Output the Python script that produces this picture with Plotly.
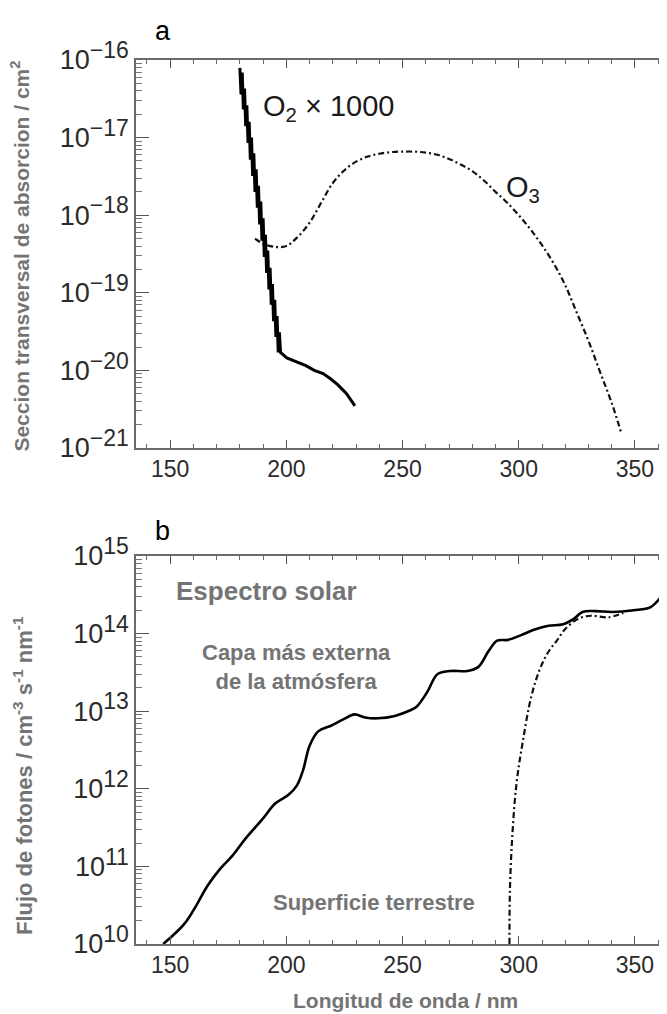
import plotly.graph_objects as go

# ---------------- data ----------------
# Panel a: absorption cross sections (cm^2)
o2_wl = [180.0, 180.5, 181.0, 181.5, 182.0, 182.5, 183.0, 183.5, 184.0, 184.5, 185.0, 185.5,
         186.0, 186.5, 187.0, 187.5, 188.0, 188.5, 189.0, 189.5, 190.0, 190.5, 191.0, 191.5,
         192.0, 192.5, 193.0, 193.5, 194.0, 194.5, 195.0, 195.5, 196.0, 196.5, 197.0, 197.5,
         200.2, 204.0, 208.4, 212.0, 215.8, 219.0, 222.2, 225.9, 229.5]
o2_xs = [7.9e-17, 3.6e-17, 6.9e-17, 2.3e-17, 4.3e-17, 1.4e-17, 2.6e-17, 8.5e-18, 1.6e-17, 5.2e-18,
         1.0e-17, 3.2e-18, 6.3e-18, 2.0e-18, 3.9e-18, 1.25e-18, 2.4e-18, 7.6e-19, 1.5e-18, 4.7e-19,
         9.1e-19, 2.9e-19, 5.6e-19, 1.8e-19, 3.5e-19, 1.1e-19, 2.1e-19, 7.0e-20, 1.3e-19, 4.3e-20,
         8.1e-20, 2.7e-20, 5.0e-20, 1.7e-20, 3.1e-20, 1.7e-20,
         1.45e-20, 1.3e-20, 1.15e-20, 1.0e-20, 9.1e-21, 7.8e-21, 6.5e-21, 5.0e-21, 3.5e-21]

o3_wl = [186.5, 190, 195, 200, 205, 210, 215, 220, 225, 230, 235, 240, 245, 250, 255, 260, 265,
         270, 275, 280, 285, 290, 295, 300, 305, 310, 315, 320, 325, 330, 335, 340, 344]
o3_xs = [5.0e-19, 4.3e-19, 3.9e-19, 4.0e-19, 5.3e-19, 8.0e-19, 1.45e-18, 2.6e-18, 3.8e-18,
         4.9e-18, 5.7e-18, 6.2e-18, 6.5e-18, 6.6e-18, 6.6e-18, 6.4e-18, 6.0e-18, 5.3e-18,
         4.5e-18, 3.7e-18, 2.8e-18, 2.0e-18, 1.45e-18, 1.0e-18, 6.6e-19, 4.1e-19, 2.4e-19,
         1.25e-19, 5.5e-20, 2.4e-20, 9.5e-21, 3.8e-21, 1.6e-21]

# Panel b: solar photon flux (cm^-3 s^-1 nm^-1)
sun_top_wl = [147, 156, 161.4, 166, 171.5, 177, 182.5, 189.8, 195.3, 200.8, 204.5, 207.2, 210,
              213.7, 219.2, 224.7, 229.3, 233.9, 239.4, 246.7, 253.1, 255.9, 260.5, 265, 270.5,
              277.9, 282.5, 287.1, 290.7, 295.3, 300.8, 307.2, 312.8, 319.1, 323.7, 327.4, 332.9,
              340.3, 349.4, 356.8, 362.3, 367]
sun_top_flux = [1.0e10, 1.8e10, 3.2e10, 5.6e10, 9.3e10, 1.4e11, 2.3e11, 4.1e11, 6.5e11, 8.3e11,
                1.1e12, 1.74e12, 3.6e12, 5.5e12, 6.5e12, 7.9e12, 9.1e12, 8.3e12, 8.1e12, 8.7e12,
                1.02e13, 1.13e13, 1.74e13, 3.0e13, 3.3e13, 3.3e13, 3.7e13, 6.0e13, 8.1e13, 8.3e13,
                9.5e13, 1.14e14, 1.26e14, 1.32e14, 1.55e14, 1.9e14, 1.95e14, 1.9e14, 2.0e14,
                2.2e14, 3.2e14, 4.1e14]

sun_surf_wl = [296, 296.2, 297.2, 299, 301.7, 305.4, 309.1, 312.7, 316.4, 320, 325.6, 331, 338.4, 345]
sun_surf_flux = [1.0e10, 5.0e10, 2.4e11, 1.15e12, 4.0e12, 1.55e13, 3.5e13, 5.8e13, 8.1e13,
                 1.15e14, 1.55e14, 1.7e14, 1.62e14, 1.85e14]

x_ticks = [150, 200, 250, 300, 350]
y_exp_a = [-21, -20, -19, -18, -17, -16]
y_exp_b = [10, 11, 12, 13, 14, 15]

# ---------------- figure ----------------
W, H = 667, 1014
L, R, T, B = 128, 1, 52, 78
TOP_PANEL = [0.5611, 1.0]
BOT_PANEL = [0.0, 0.4389]

FAM = "Liberation Sans, Arial, sans-serif"
GRAY = "#747474"
DASHDOT = "6px,3px,2px,3px"

fig = go.Figure()

fig.add_trace(go.Scatter(x=o3_wl, y=o3_xs, mode="lines",
                         line=dict(color="#111", width=2.2, dash=DASHDOT, shape="spline"),
                         xaxis="x", yaxis="y", showlegend=False))
fig.add_trace(go.Scatter(x=o2_wl, y=o2_xs, mode="lines", line=dict(color="#000", width=3),
                         xaxis="x", yaxis="y", showlegend=False))

fig.add_trace(go.Scatter(x=sun_surf_wl, y=sun_surf_flux, mode="lines",
                         line=dict(color="#111", width=2.2, dash=DASHDOT, shape="spline"),
                         xaxis="x2", yaxis="y2", showlegend=False))
fig.add_trace(go.Scatter(x=sun_top_wl, y=sun_top_flux, mode="lines",
                         line=dict(color="#000", width=2.6, shape="spline"),
                         xaxis="x2", yaxis="y2", showlegend=False))

frame = dict(showline=True, linecolor="#6a6a6a", linewidth=1.5, mirror="allticks",
             ticks="inside", showgrid=False, zeroline=False, automargin=False)

x_minor = [v for v in range(140, 370, 10) if v % 50]
xcommon = dict(range=[135.3, 366.8], tickmode="array", tickvals=x_ticks,
               ticktext=[str(v) for v in x_ticks], ticklen=8, tickcolor="#555",
               tickfont=dict(family=FAM, size=23, color="#2b2b2b"),
               minor=dict(tickmode="array", tickvals=x_minor, ticks="inside", ticklen=4,
                          tickcolor="#666", showgrid=False),
               **frame)


def ycommon(exps):
    e0, e1 = exps[0], exps[-1]
    minor_vals = [k * 10.0 ** e for e in range(e0, e1) for k in range(2, 10)]
    return dict(type="log", range=[e0, e1], tickmode="array",
                tickvals=[10.0 ** e for e in exps],
                ticktext=["10<sup><span style='font-size:23px'>" + str(e).replace("-", "−")
                          + "</span></sup>" for e in exps],
                tickfont=dict(family=FAM, size=27, color="#2b2b2b"),
                ticklen=13, tickcolor="#555",
                minor=dict(tickmode="array", tickvals=minor_vals, ticks="inside",
                           ticklen=6, tickcolor="#777", showgrid=False),
                **frame)


fig.update_layout(
    width=W, height=H,
    margin=dict(l=L, r=R, t=T, b=B, autoexpand=False),
    paper_bgcolor="white", plot_bgcolor="white",
    xaxis=dict(domain=[0, 1], anchor="y", **xcommon),
    yaxis=dict(domain=TOP_PANEL, anchor="x", **ycommon(y_exp_a)),
    xaxis2=dict(domain=[0, 1], anchor="y2", **xcommon),
    yaxis2=dict(domain=BOT_PANEL, anchor="x2", **ycommon(y_exp_b)),
)

gray_font = dict(family=FAM, color=GRAY)
C = dict(showarrow=False, xanchor="center", yanchor="middle")

annotations = [
    # panel letters
    dict(text="a", x=0.05, y=1.033, xref="paper", yref="paper",
         font=dict(family=FAM, size=27, color="#000"), **C),
    dict(text="b", x=0.05, y=0.467, xref="paper", yref="paper",
         font=dict(family=FAM, size=27, color="#000"), **C),
    # axis titles
    dict(text="<b>Seccion transversal de absorcion / cm<sup>2</sup></b>", x=-0.215, y=0.778,
         xref="paper", yref="paper", textangle=-90, font=dict(size=21, **gray_font), **C),
    dict(text="<b>Flujo de fotones / cm<sup>-3</sup> s<sup>-1</sup> nm<sup>-1</sup></b>",
         x=-0.21, y=0.19, xref="paper", yref="paper", textangle=-90,
         font=dict(size=22, **gray_font), **C),
    dict(text="<b>Longitud de onda / nm</b>", x=0.5, y=-0.064, xref="paper", yref="paper",
         font=dict(size=21, **gray_font), **C),
    # panel a labels
    dict(text="O<sub>2</sub> × 1000", x=218, y=-16.62, xref="x", yref="y",
         font=dict(family=FAM, size=29, color="#1a1a1a"), **C),
    dict(text="O<sub>3</sub>", x=302, y=-17.66, xref="x", yref="y",
         font=dict(family=FAM, size=29, color="#1a1a1a"), **C),
    # panel b labels
    dict(text="<b>Espectro solar</b>", x=191.6, y=14.55, xref="x2", yref="y2",
         font=dict(size=26, **gray_font), **C),
    dict(text="<b>Capa más externa<br>de la atmósfera</b>", x=204.3, y=13.57, xref="x2", yref="y2",
         font=dict(size=22, **gray_font), **C),
    dict(text="<b>Superficie terrestre</b>", x=237.5, y=10.53, xref="x2", yref="y2",
         font=dict(size=22, **gray_font), **C),
]
fig.update_layout(annotations=annotations)

fig.write_html("out.html")
